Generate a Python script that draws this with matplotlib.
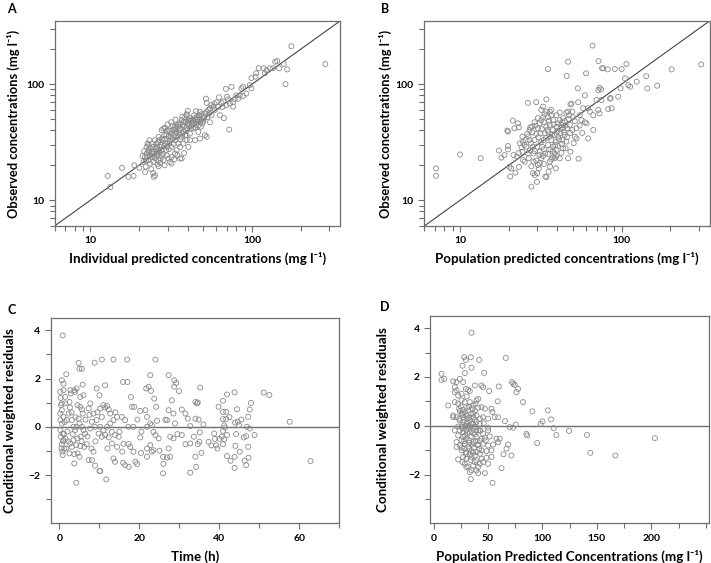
import matplotlib
matplotlib.use("Agg")
import matplotlib.pyplot as plt
from matplotlib.ticker import LogLocator, FixedLocator, FixedFormatter, NullFormatter

# ----------------------------------------
# DATA
# ----------------------------------------
# A: individual predicted vs observed (mg/l)
ipred_obs = [
    (12.8, 16.2), (13.3, 13.0), (15.7, 19.0), (17.2, 15.9), (18.5, 16.2), (18.7, 20.0), (20.1, 19.0),
    (21.3, 21.4), (21.8, 17.5), (24.5, 17.2), (24.7, 15.9), (25.1, 16.4), (26.4, 19.6), (26.0, 20.4),
    (22.3, 28.8), (22.9, 27.0), (22.3, 25.2), (21.8, 23.6), (23.4, 24.4), (24.0, 26.1), (24.5, 28.8),
    (25.1, 32.9), (25.7, 30.8), (26.4, 35.2), (26.7, 32.9), (27.6, 40.1), (28.3, 41.5), (29.0, 42.0),
    (29.7, 39.6), (30.4, 35.2), (31.1, 32.9), (31.8, 37.5), (32.6, 40.1), (33.4, 43.0), (34.2, 44.0),
    (35.0, 43.0), (35.9, 46.0), (36.7, 49.0), (37.6, 47.0), (38.5, 52.0), (39.4, 54.0), (40.4, 49.0),
    (41.3, 51.0), (42.3, 49.0), (43.3, 49.0), (44.4, 51.0), (45.4, 46.0), (46.5, 44.0), (47.6, 47.0),
    (48.8, 49.0), (49.9, 52.0), (51.1, 56.0), (52.4, 58.0), (53.6, 60.0), (54.9, 62.0), (57.6, 64.0),
    (56.2, 54.0), (54.9, 47.0), (52.4, 35.2), (51.1, 36.3), (47.6, 34.0), (46.5, 38.8), (43.3, 41.5),
    (41.3, 37.5), (39.4, 32.9), (37.6, 30.8), (35.9, 28.8), (34.2, 27.0), (33.4, 25.2), (31.8, 23.6),
    (30.4, 22.9), (29.7, 24.4), (28.3, 25.2), (27.6, 27.0), (27.0, 28.8), (25.7, 25.2), (25.1, 22.9),
    (24.5, 21.4), (23.4, 20.7), (22.9, 22.1), (31.8, 28.8), (33.4, 32.9), (36.7, 35.2), (38.5, 36.3),
    (41.3, 32.9), (35.9, 22.9), (36.7, 22.9), (31.1, 21.4), (31.8, 20.7), (26.4, 22.1), (29.0, 30.8),
    (29.7, 28.8), (28.3, 22.1), (31.6, 47.0), (39.4, 55.0), (47.6, 58.0), (51.9, 75.0), (52.4, 69.0),
    (60.3, 70.0), (62.4, 77.0), (64.8, 69.0), (66.3, 71.0), (68.9, 91.0), (74.6, 95.0), (71.2, 74.0),
    (76.4, 64.0), (72.2, 40.6), (67.0, 51.0), (63.3, 54.0), (80.1, 80.0), (84.0, 80.0), (88.0, 79.0),
    (86.0, 92.0), (88.0, 95.0), (78.2, 74.0), (82.0, 75.0), (96.8, 98.0), (99.1, 92.0), (99.1, 113.0),
    (106, 124), (105, 116), (110, 137), (118, 137), (123, 132), (129, 137), (135, 137), (139, 156),
    (143, 158), (147, 137), (157, 149), (165, 134), (161, 100), (175, 212), (284, 149), (120, 124),
    (92.3, 83.0), (76.4, 70.0), (72.9, 68.0), (69.5, 66.0), (22.6, 30.8), (23.2, 32.9), (24.0, 23.6),
    (24.3, 25.2), (25.5, 27.9), (26.0, 24.4), (27.2, 22.9), (28.0, 32.9), (28.6, 36.3), (29.4, 27.0),
    (30.4, 40.1), (30.8, 30.8), (31.4, 35.2), (32.3, 44.0), (33.0, 36.3), (33.8, 38.8), (34.6, 35.2),
    (35.2, 40.1), (36.2, 41.5), (37.2, 37.5), (38.0, 43.0), (39.0, 40.1), (39.8, 46.0), (41.0, 44.0),
    (41.8, 41.5), (42.8, 46.0), (43.8, 54.0), (45.0, 49.0), (45.8, 52.0), (47.0, 54.0), (48.2, 43.0),
    (49.4, 46.0), (50.5, 51.0), (52.9, 52.0), (54.4, 56.0), (59.0, 60.0), (61.8, 64.0), (22.9, 29.8),
    (26.4, 27.0), (27.6, 24.4), (35.0, 30.8), (39.4, 36.3), (44.4, 32.9), (40.4, 28.8),
    (21.0, 24.0), (21.5, 26.5), (22.0, 22.0), (22.5, 23.5), (23.0, 26.0), (23.5, 28.0), (24.0, 30.5),
    (24.8, 24.0), (25.3, 26.0), (25.8, 29.0), (26.2, 31.5), (26.8, 25.8), (27.3, 30.0), (27.8, 34.0),
    (28.5, 29.5), (29.0, 33.5), (29.5, 37.0), (30.0, 31.0), (30.6, 27.5), (31.2, 39.5), (32.0, 34.0),
    (32.8, 30.5), (33.5, 41.0), (34.0, 38.0), (34.8, 45.0), (35.5, 37.5), (36.0, 33.5), (37.0, 44.5),
    (37.8, 39.0), (38.8, 47.5), (39.5, 42.0), (40.5, 45.5), (41.5, 48.5), (42.5, 44.0), (43.5, 47.0),
    (44.5, 42.5), (46.0, 50.0), (47.2, 52.5), (48.5, 55.0), (50.0, 48.0), (22.0, 19.5), (23.8, 18.5),
    (27.0, 21.0), (28.8, 20.0), (33.0, 22.5), (34.5, 24.5), (38.0, 25.5), (30.0, 45.0), (33.6, 49.5),
    (37.0, 52.5), (58.5, 68.0), (56.0, 66.0), (65.5, 63.5), (70.0, 78.0), (45.0, 58.5), (40.0, 59.0),
]

# B: population predicted vs observed (mg/l)
ppred_obs = [
    (7.1, 18.8), (7.1, 16.2), (10.0, 24.8), (13.4, 23.0), (17.4, 26.8), (18.0, 23.3), (18.8, 24.5),
    (19.8, 29.3), (19.8, 27.4), (19.6, 39.8), (19.8, 39.0), (21.2, 48.5), (21.7, 41.7), (22.8, 46.0),
    (23.1, 42.5), (20.2, 19.4), (20.4, 16.0), (20.7, 18.8), (22.0, 17.3), (23.1, 19.4), (21.4, 24.5),
    (22.5, 23.7), (24.3, 26.2), (24.5, 22.2), (25.1, 21.5), (23.4, 30.9), (24.3, 35.3), (25.4, 33.0),
    (25.7, 28.9), (26.3, 25.3), (26.6, 23.0), (26.9, 40.3), (27.2, 42.5), (27.6, 19.6), (28.2, 17.1),
    (29.0, 16.5), (30.0, 17.1), (30.3, 20.1), (30.7, 18.8), (29.6, 22.0), (31.1, 20.8), (31.8, 23.0),
    (32.6, 24.0), (33.7, 16.0), (34.2, 15.8), (35.3, 17.6), (35.9, 21.5), (36.7, 22.5), (37.6, 23.4),
    (38.5, 23.0), (39.1, 18.8), (38.5, 25.3), (39.5, 27.1), (40.4, 29.3), (41.4, 23.0), (42.4, 25.6),
    (27.6, 13.1), (29.9, 14.4), (28.2, 28.9), (28.9, 33.0), (29.6, 37.2), (30.3, 41.7), (31.1, 46.0),
    (31.8, 49.0), (32.6, 52.0), (33.4, 55.0), (34.2, 58.0), (35.0, 52.0), (35.9, 58.0), (36.7, 54.0),
    (34.2, 43.0), (33.4, 37.7), (35.0, 39.0), (35.9, 35.3), (37.6, 40.3), (38.5, 36.5), (39.5, 43.0),
    (40.4, 46.0), (41.4, 49.0), (42.4, 44.5), (43.4, 41.7), (44.4, 48.0), (45.5, 57.0), (46.6, 58.0),
    (47.3, 54.0), (48.2, 67.0), (48.9, 68.0), (50.0, 52.0), (51.3, 48.0), (52.5, 41.7), (51.3, 35.3),
    (52.5, 34.1), (53.8, 70.0), (53.6, 92.0), (55.1, 54.0), (56.4, 49.0), (57.8, 62.0), (59.2, 80.0),
    (59.2, 47.0), (60.6, 46.0), (62.1, 34.1), (66.7, 40.3), (54.1, 22.8), (46.6, 23.0), (48.2, 26.2),
    (43.4, 28.0), (45.5, 32.0), (26.3, 69.0), (29.6, 70.0), (34.2, 74.0), (32.6, 64.0), (35.0, 135),
    (45.7, 118), (46.6, 156), (60.2, 124), (66.0, 215), (71.9, 158), (75.6, 137), (76.9, 137),
    (82.0, 134), (90.8, 135), (100, 135), (107, 149), (71.6, 89.0), (74.6, 90.0), (73.0, 93.0),
    (69.9, 73.0), (75.1, 73.0), (71.6, 60.0), (73.0, 56.0), (86.7, 62.0), (85.6, 76.0), (84.6, 75.0),
    (82.6, 61.0), (95.2, 78.0), (98.6, 92.0), (105, 112), (110, 98.0), (113, 95.0), (124, 105),
    (142, 117), (144, 92.0), (166, 97.0), (204, 134), (311, 148), (62.0, 62.0), (63.6, 58.0),
    (66.7, 54.0), (24.5, 32.0), (26.0, 37.2), (26.9, 33.0), (27.9, 43.0), (28.9, 47.0), (28.5, 25.3),
    (30.0, 28.9), (31.1, 26.2), (32.2, 28.9), (33.0, 33.0), (33.7, 25.3), (35.0, 29.9), (36.7, 33.0),
    (37.6, 28.9), (39.1, 32.0), (40.4, 35.3), (41.8, 37.7), (43.0, 33.0), (44.4, 36.5), (46.0, 41.7),
    (47.7, 44.5), (49.5, 40.3), (49.5, 58.0), (31.4, 37.7), (30.3, 51.0), (37.6, 49.0), (35.9, 44.5),
    (39.5, 54.0), (41.4, 57.0), (43.4, 51.0), (31.8, 60.0), (36.7, 60.0),
    (25.0, 30.0), (26.5, 35.5), (27.5, 31.0), (28.0, 38.5), (29.3, 44.0), (30.5, 35.0), (31.5, 31.5),
    (32.0, 41.0), (33.0, 47.0), (34.0, 34.5), (34.8, 40.5), (35.5, 48.5), (36.2, 27.5), (37.0, 37.0),
    (38.0, 45.0), (38.8, 30.0), (40.0, 39.5), (41.0, 33.5), (42.0, 42.0), (43.0, 47.0), (44.0, 38.5),
    (45.0, 44.0), (46.0, 35.0), (47.0, 50.0), (48.0, 38.0), (29.0, 26.5), (31.0, 24.5), (33.0, 27.5),
    (35.0, 25.0), (37.5, 26.5), (39.5, 24.0), (27.0, 27.0), (24.0, 28.5), (23.0, 25.5), (36.0, 19.5),
    (33.0, 20.5), (28.5, 21.5), (42.5, 30.5), (45.0, 28.0), (50.5, 31.0), (55.0, 44.0), (57.0, 38.0),
]

# C: time (h) vs conditional weighted residuals
time_cwres = [
    (0.8, 3.79), (0.6, 1.93), (1.0, 1.79), (1.7, 2.18), (0.2, 1.45), (1.0, 1.52), (1.4, 1.24),
    (0.6, 0.97), (1.4, 0.97), (0.2, 0.55), (0.6, 0.69), (1.0, 0.41), (0.2, 0.28), (0.6, 0.14),
    (0.2, -0.14), (0.8, -0.28), (0.3, -0.41), (1.0, -0.55), (0.6, -0.72), (1.2, -0.90), (0.7, -1.03),
    (0.8, -1.17), (1.7, -0.90), (1.8, 0.28), (2.3, 0.55), (2.5, 1.03), (2.7, 1.52), (2.8, 1.38),
    (3.7, 1.52), (3.9, 1.45), (4.3, 1.59), (4.8, 2.65), (5.0, 2.41), (5.6, 2.41), (5.8, 1.75),
    (5.2, 1.24), (6.0, 1.31), (5.2, 0.83), (5.6, 0.72), (5.8, 0.55), (4.8, 0.34), (5.0, 0.14),
    (4.3, 0.0), (3.5, 0.0), (3.1, 0.28), (3.9, -0.14), (5.6, 0.0), (6.0, -0.14), (6.4, -0.28),
    (5.3, -0.41), (4.5, -0.48), (3.5, -0.55), (2.7, -0.69), (3.1, -0.83), (4.2, -0.76), (5.2, -0.80),
    (6.2, -0.83), (6.8, -0.72), (2.5, -1.10), (3.7, -1.13), (4.5, -1.10), (5.0, -1.24), (3.7, -1.52),
    (4.2, -2.32), (7.3, -1.38), (8.1, -1.38), (8.5, -1.03), (8.9, -1.61), (10.0, -1.83), (10.2, -1.83),
    (11.7, -2.18), (8.8, 2.66), (10.6, 2.79), (13.5, 2.79), (16.9, 2.79), (24.0, 2.79), (9.3, 1.59),
    (11.4, 1.72), (10.0, 1.31), (7.7, 0.97), (7.3, 0.76), (8.5, 0.55), (10.2, 0.76), (11.0, 0.90),
    (11.4, 0.80), (11.9, 0.86), (12.3, 0.72), (12.7, 0.55), (10.6, 0.41), (9.3, 0.28), (8.1, 0.21),
    (7.7, -0.07), (8.9, 0.0), (10.2, 0.0), (11.0, -0.14), (11.9, 0.0), (12.7, 0.14), (13.5, 0.28),
    (14.4, 0.41), (15.6, 0.41), (16.4, 0.28), (17.2, 0.0), (18.5, 0.0), (9.8, -0.28), (10.6, -0.41),
    (11.4, -0.34), (12.3, -0.44), (13.1, -0.21), (13.9, -0.34), (14.8, -0.41), (13.1, -0.69),
    (14.4, -0.83), (15.7, -1.03), (17.3, -0.72), (17.7, -0.83), (18.5, -1.03), (13.5, -1.31),
    (13.9, -1.45), (15.9, -1.49), (16.4, -1.59), (17.3, -1.66), (19.0, -1.45), (19.4, -1.54),
    (17.9, 1.24), (17.0, 1.86), (15.9, 1.86), (18.1, 0.83), (18.7, 0.83), (20.2, 0.66), (21.5, 0.69),
    (21.9, 0.41), (22.7, 0.14), (21.9, 0.0), (23.1, 0.07), (23.5, -0.21), (20.2, -0.44), (21.9, -0.90),
    (22.7, -0.76), (23.1, -1.03), (20.4, -1.08), (21.9, -1.24), (22.7, 2.14), (21.7, 1.59), (22.3, 1.66),
    (22.9, 1.49), (23.7, 1.17), (24.2, 0.83), (24.4, 0.25), (24.0, -0.34), (24.8, -0.48), (25.0, -0.99),
    (25.9, -1.24), (26.0, -1.54), (23.5, -0.97), (27.3, 2.14), (28.7, 1.93), (29.2, 1.82), (29.9, 1.48),
    (28.7, 1.66), (28.1, 1.10), (27.3, 0.69), (28.5, 0.55), (28.9, 0.14), (26.9, 0.28), (27.7, -0.41),
    (28.5, -0.48), (27.3, -0.90), (27.7, -1.24), (26.9, -1.27), (30.6, 0.72), (31.5, 0.55), (32.1, 0.34),
    (32.7, 0.03), (33.6, -0.41), (34.0, -1.24), (34.2, -1.66), (34.0, 1.03), (34.4, 0.97), (32.7, -0.69),
    (31.5, -0.72), (30.6, -0.34), (25.9, -1.93), (32.7, -1.90), (35.2, 1.63), (34.6, 1.01), (34.8, 0.30),
    (34.0, 0.34), (35.1, -0.23), (35.0, -0.62), (34.6, -0.72), (35.5, -1.08), (37.3, -0.62), (38.0, -0.77),
    (38.7, -0.28), (38.9, -0.50), (39.2, -0.77), (39.5, -0.90), (39.8, 0.83), (40.6, -0.41), (40.9, 1.08),
    (40.9, 0.62), (41.7, 0.62), (40.9, 0.32), (41.7, 0.32), (41.2, 0.06), (41.4, -0.03), (40.9, -0.17),
    (41.9, -0.34), (41.2, -0.52), (40.9, -0.72), (41.9, 1.34), (43.8, 1.43), (44.4, 0.73), (43.9, 0.18),
    (44.6, 0.21), (44.9, 0.07), (44.2, -0.30), (44.0, -0.79), (41.9, -1.21), (42.8, -1.41), (43.8, -1.24),
    (43.8, -1.70), (45.1, -1.03), (46.3, -1.41), (46.7, -1.59), (47.3, -1.28), (46.9, 0.0), (47.6, -0.07),
    (47.2, -0.83), (46.1, -0.44), (46.7, -0.39), (48.8, -0.34), (47.2, 0.41), (47.6, 0.72), (47.9, 0.99),
    (51.1, 1.42), (52.5, 1.32), (57.6, 0.21), (62.8, -1.42),
    (0.3, 1.20), (0.5, -0.90), (0.4, 0.90), (1.1, -0.30), (1.3, 0.20), (0.9, -0.60), (1.5, -0.50),
    (2.0, -0.20), (2.2, -0.60), (2.6, 0.80), (3.0, 0.60), (3.3, -0.30), (4.0, 0.40), (4.5, 0.90),
    (5.5, -0.60), (6.5, 0.30), (7.0, -0.40), (7.5, 0.50), (8.0, -0.90), (9.0, -0.60), (9.5, 0.60),
    (12.0, -0.90), (14.0, 0.60), (15.0, -0.20), (16.0, -0.70), (19.5, 0.30), (20.5, -0.20), (26.5, 0.30),
    (29.5, -0.30), (36.0, 0.10), (40.0, -0.50), (42.5, 0.40), (45.5, 0.30),
]

# D: population predicted concentration (mg/l) vs conditional weighted residuals
ppred_cwres = [
    (34.8, 3.81), (7.3, 2.13), (7.3, 1.88), (9.9, 1.92), (13.4, 0.83), (18.0, 0.35), (18.0, 1.82),
    (19.5, 1.58), (19.5, 1.38), (21.1, 1.79), (24.1, 1.92), (27.2, 1.79), (28.1, 2.81), (29.6, 2.70),
    (34.2, 2.81), (34.8, 2.38), (26.6, 2.46), (28.7, 2.16), (41.9, 2.70), (46.5, 2.17), (66.3, 2.78),
    (21.1, 1.45), (22.6, 1.24), (25.7, 1.31), (29.6, 1.51), (31.8, 1.47), (33.3, 1.42), (37.9, 1.65),
    (44.0, 1.65), (45.5, 1.58), (51.0, 1.42), (59.9, 1.61), (19.5, 0.97), (22.6, 0.90), (25.7, 1.04),
    (28.7, 0.97), (33.3, 0.97), (39.4, 1.04), (41.0, 1.10), (36.4, 0.83), (44.0, 0.76), (47.1, 0.70),
    (53.2, 0.70), (54.1, 0.56), (58.9, 1.00), (18.0, 0.42), (21.1, 0.35), (25.7, 0.49), (27.2, 0.35),
    (28.7, 0.56), (30.2, 0.42), (31.8, 0.63), (34.8, 0.49), (36.4, 0.35), (39.4, 0.42), (42.5, 0.29),
    (45.5, 0.35), (50.1, 0.29), (56.2, 0.35), (59.3, 0.35), (24.1, 0.22), (27.2, 0.15), (30.2, 0.08),
    (33.3, 0.22), (36.4, 0.08), (39.4, 0.15), (22.6, -0.03), (25.7, -0.03), (28.7, -0.03), (31.8, -0.03),
    (34.8, -0.03), (37.9, -0.06), (50.1, -0.08), (65.6, 0.19), (70.0, -0.06), (73.1, -0.08), (75.5, 0.05),
    (19.5, -0.19), (24.1, -0.19), (27.2, -0.26), (30.2, -0.17), (33.3, -0.26), (36.4, -0.30), (42.5, -0.19),
    (45.5, -0.33), (50.1, -0.19), (22.6, -0.40), (27.2, -0.46), (30.2, -0.53), (34.8, -0.44), (39.4, -0.46),
    (44.0, -0.53), (47.1, -0.49), (51.6, -0.44), (57.8, -0.53), (60.8, -0.53), (21.1, -0.67), (24.1, -0.81),
    (28.7, -0.74), (31.8, -0.85), (36.4, -0.67), (41.0, -0.77), (45.5, -0.74), (50.1, -0.81), (54.7, -0.77),
    (59.3, -0.67), (68.5, -0.77), (67.0, -0.94), (21.1, -0.87), (25.7, -1.01), (30.2, -1.08), (34.8, -1.04),
    (39.4, -1.08), (44.0, -1.01), (48.6, -1.04), (53.2, -1.01), (22.6, -1.38), (27.2, -1.28), (30.2, -1.35),
    (34.8, -1.28), (39.4, -1.42), (44.0, -1.35), (48.6, -1.31), (53.2, -1.28), (71.5, -1.22), (28.7, -1.56),
    (31.8, -1.67), (36.4, -1.63), (41.0, -1.69), (42.5, -1.56), (50.1, -1.56), (62.4, -1.74), (30.2, -1.69),
    (34.8, -1.83), (39.4, -1.83), (47.1, -1.94), (34.2, -2.19), (54.1, -2.34), (104.9, 0.63), (100.0, 0.18),
    (98.4, 0.08), (107.9, 0.26), (110.4, -0.10), (112.8, -0.38), (124.4, -0.21), (140.9, -0.38),
    (144.0, -1.11), (167.0, -1.22), (203.3, -0.51), (82.2, 0.97), (90.8, 0.59), (95.1, -0.71), (85.3, -0.33),
    (86.0, -0.40), (72.1, 1.79), (73.1, 1.72), (74.6, 1.68), (77.6, 1.51), (76.1, 1.38), (64.2, -1.17),
    (23.5, 0.70), (25.1, 0.79), (26.6, 0.65), (30.9, 0.74), (32.7, 0.79), (35.7, 0.70), (37.9, 0.60),
    (41.0, 0.74), (23.5, 0.29), (27.8, 0.24), (32.7, 0.33), (37.9, 0.24), (42.5, 0.08), (26.6, -0.12),
    (30.9, -0.30), (32.7, -0.12), (37.9, -0.36), (41.0, -0.19), (25.7, -0.60), (28.1, -0.63), (32.7, -0.60),
    (35.7, -0.77), (38.8, -0.63), (42.5, -0.63), (28.1, -0.94), (32.7, -0.94), (37.0, -0.90), (41.9, -0.94),
    (29.6, -1.15), (33.3, -1.17), (37.9, -1.22), (42.5, -1.15), (26.6, -1.49), (37.9, -1.49), (45.5, -1.49),
    (33.3, -1.90), (41.0, -1.94),
    (27.0, 0.50), (29.0, -0.40), (31.0, 0.30), (33.0, -0.70), (35.0, 0.10), (36.5, -1.10), (38.5, 0.90),
    (40.5, -0.80), (43.0, -0.20), (26.0, -0.90), (24.0, 0.60), (30.5, 1.20), (34.0, -1.40), (46.0, 0.10),
    (48.0, -0.60), (39.0, -0.20), (29.5, 0.00), (32.0, 0.00), (36.5, 0.50),
]

# ----------------------------------------
# STYLE
# ----------------------------------------
FONT = ["Lato", "DejaVu Sans"]
plt.rcParams["font.family"] = FONT
plt.rcParams["font.weight"] = "bold"
SPINE = "#6e6e6e"
MARK = "#8a8a8a"
XLABEL_SIZE = 9.6
TICK_SIZE = 7.5

fig = plt.figure(figsize=(7.11, 5.63), dpi=100)

W, H = 711.0, 563.0


def make_axes(left, top, right, bottom):
    return fig.add_axes([left / W, 1 - bottom / H, (right - left) / W, (bottom - top) / H])


def style(ax):
    for sp in ax.spines.values():
        sp.set_color(SPINE)
        sp.set_linewidth(0.9)
    ax.tick_params(which="both", direction="out", color=SPINE, width=0.8, labelsize=TICK_SIZE,
                   pad=3)
    ax.tick_params(which="major", length=4.5)
    ax.tick_params(which="minor", length=3.5)


def scatter(ax, pts):
    xs = [p[0] for p in pts]
    ys = [p[1] for p in pts]
    ax.scatter(xs, ys, s=13, facecolors="none", edgecolors=MARK, linewidths=0.6, zorder=3)


def log_axes(ax):
    lim = (6.0, 350.0)
    ax.set_xscale("log")
    ax.set_yscale("log")
    ax.set_xlim(lim)
    ax.set_ylim(lim)
    for axis in (ax.xaxis, ax.yaxis):
        axis.set_major_locator(FixedLocator([10, 100]))
        axis.set_major_formatter(FixedFormatter(["10", "100"]))
        axis.set_minor_locator(LogLocator(base=10, subs=range(2, 10)))
        axis.set_minor_formatter(NullFormatter())
    ax.plot(lim, lim, color="#444444", lw=0.8, zorder=2)


def labels(ax, xlabel, ylabel, xl_y, yl_x, ysize):
    ax.set_xlabel(xlabel, fontsize=XLABEL_SIZE, fontweight="bold", va="center")
    ax.set_ylabel(ylabel, fontsize=ysize, fontweight="bold", va="center")
    ax.xaxis.set_label_coords(0.5, xl_y)
    ax.yaxis.set_label_coords(yl_x, 0.5)


unit = "(mg l\u207b\u00b9)"

# ----------------------------------------
# PANEL A
# ----------------------------------------
axA = make_axes(54.5, 21, 340, 226)
style(axA)
log_axes(axA)
scatter(axA, ipred_obs)
labels(axA, "Individual predicted concentrations " + unit, "Observed concentrations " + unit,
       -0.156, -0.144, 9.3)

# ----------------------------------------
# PANEL B
# ----------------------------------------
axB = make_axes(424.3, 21, 709.5, 226)
style(axB)
log_axes(axB)
scatter(axB, ppred_obs)
labels(axB, "Population predicted concentrations " + unit, "Observed concentrations " + unit,
       -0.156, -0.136, 9.3)

# ----------------------------------------
# PANEL C
# ----------------------------------------
axC = make_axes(50.7, 318.3, 339.3, 523.3)
style(axC)
axC.set_xlim(-2.2, 70)
axC.set_ylim(-4, 4.5)
axC.xaxis.set_major_locator(FixedLocator([0, 20, 40, 60]))
axC.xaxis.set_minor_locator(FixedLocator([10, 30, 50, 70]))
axC.yaxis.set_major_locator(FixedLocator([-2, 0, 2, 4]))
axC.yaxis.set_minor_locator(FixedLocator([-3, -1, 1, 3]))
axC.axhline(0, color="#6e6e6e", lw=1.0, zorder=2)
scatter(axC, time_cwres)
labels(axC, "Time (h)", "Conditional weighted residuals", -0.161, -0.142, 9.6)

# ----------------------------------------
# PANEL D
# ----------------------------------------
axD = make_axes(430.3, 316, 709, 523.3)
style(axD)
axD.set_xlim(-3, 253)
axD.set_ylim(-4, 4.5)
axD.xaxis.set_major_locator(FixedLocator([0, 50, 100, 150, 200]))
axD.xaxis.set_minor_locator(FixedLocator([25, 75, 125, 175, 225, 250]))
axD.yaxis.set_major_locator(FixedLocator([-2, 0, 2, 4]))
axD.yaxis.set_minor_locator(FixedLocator([-3, -1, 1, 3]))
axD.axhline(0, color="#6e6e6e", lw=1.0, zorder=2)
scatter(axD, ppred_cwres)
labels(axD, "Population Predicted Concentrations " + unit, "Conditional weighted residuals",
       -0.161, -0.168, 9.6)

# panel letters
for letter, (px, py) in {"A": (7, 3), "B": (381.5, 3), "C": (7, 304), "D": (380, 301)}.items():
    fig.text(px / W, 1 - py / H, letter, fontsize=9, fontweight="bold", ha="left", va="top")

fig.savefig("out.png", dpi=100)
